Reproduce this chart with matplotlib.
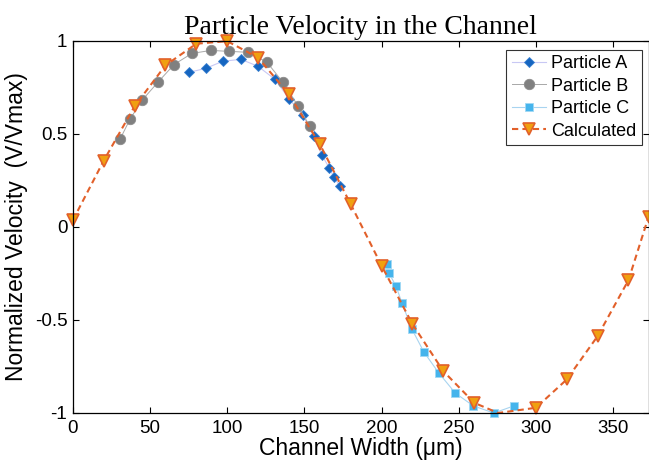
import matplotlib
matplotlib.use("Agg")
import matplotlib.pyplot as plt

# Particle A (blue diamonds)
a_x = [75.2, 86.2, 97.2, 108.9, 119.9, 130.9, 140.3, 149.0, 156.0, 161.2, 166.0, 169.1, 173.0]
a_y = [0.83, 0.852, 0.89, 0.90, 0.863, 0.793, 0.686, 0.60, 0.489, 0.388, 0.318, 0.268, 0.219]

# Particle B (grey circles)
b_x = [30.5, 37.0, 44.8, 55.1, 65.5, 77.1, 89.5, 101.1, 113.4, 125.7, 136.2, 146.0, 153.6]
b_y = [0.47, 0.578, 0.68, 0.777, 0.872, 0.932, 0.948, 0.943, 0.938, 0.885, 0.776, 0.648, 0.54]

# Particle C (light blue squares)
c_x = [203.4, 204.7, 209.3, 213.2, 219.6, 227.4, 237.1, 247.8, 259.5, 272.8, 285.7]
c_y = [-0.20, -0.247, -0.317, -0.408, -0.548, -0.672, -0.785, -0.893, -0.962, -1.0, -0.962]

# Calculated profile
calc_x = [0, 20, 40, 60, 80, 100, 120, 140, 160, 180, 200, 220, 240, 260, 275.5, 300, 320, 340, 360, 373]
calc_y = [0.036, 0.356, 0.648, 0.868, 0.984, 0.998, 0.909, 0.712, 0.444, 0.122, -0.208, -0.522,
          -0.775, -0.945, -1.0, -0.972, -0.82, -0.587, -0.286, 0.054]
calc_marks = [i for i in range(len(calc_x)) if i != 14]

plt.rcParams['font.family'] = ['Liberation Sans', 'DejaVu Sans']

fig = plt.figure(figsize=(6.49, 4.63), dpi=100)
ax = fig.add_axes([0.1123, 0.108, 0.887, 0.804])

ax.plot(a_x, a_y, '-', color='#c8c8f4', lw=0.8, marker='D', ms=5.5,
        mfc='#1565c0', mec='#3a80d0', mew=0.6, label='Particle A', clip_on=False)
ax.plot(b_x, b_y, '-', color='#a8a8a8', lw=0.7, marker='o', ms=7.5,
        mfc='#808080', mec='#8c8c8c', mew=0.6, label='Particle B', clip_on=False)
ax.plot(c_x, c_y, '-', color='#a8d4f0', lw=0.8, marker='s', ms=5.5,
        mfc='#45b4ec', mec='#a0d8f4', mew=0.6, label='Particle C', clip_on=False)
ax.plot(calc_x, calc_y, '--', color='#e2602a', lw=1.5, dashes=(3, 2),
        marker='v', ms=9, mfc='#f0a010', mec='#e2602a', mew=1.2,
        markevery=calc_marks, label='Calculated', clip_on=False)

ax.set_xlim(0, 373)
ax.set_ylim(-1, 1)
ax.set_xticks([0, 50, 100, 150, 200, 250, 300, 350])
ax.set_yticks([-1, -0.5, 0, 0.5, 1])
ax.set_yticklabels(['-1', '-0.5', '0', '0.5', '1'])
ax.tick_params(direction='in', length=4, width=0.8, top=True, right=True,
               labelsize=13.5)
ax.tick_params(axis='x', pad=5)
ax.tick_params(axis='y', pad=4)
for s in ax.spines.values():
    s.set_linewidth(0.9)

ax.set_title('Particle Velocity in the Channel', family=['Liberation Serif', 'DejaVu Serif'],
             fontsize=20, pad=5)
ax.set_xlabel('Channel Width (μm)', fontsize=16.5, labelpad=0)
ax.set_ylabel('Normalized Velocity  (V/Vmax)', fontsize=16.5, labelpad=5)

leg = ax.legend(loc='upper right', bbox_to_anchor=(0.995, 0.985), fontsize=13,
                frameon=True, fancybox=False, handlelength=1.9, handletextpad=0.3,
                borderpad=0.3, labelspacing=0.3, borderaxespad=0.2)
leg.get_frame().set_edgecolor('black')
leg.get_frame().set_linewidth(0.8)

fig.savefig('out.png', dpi=100)
